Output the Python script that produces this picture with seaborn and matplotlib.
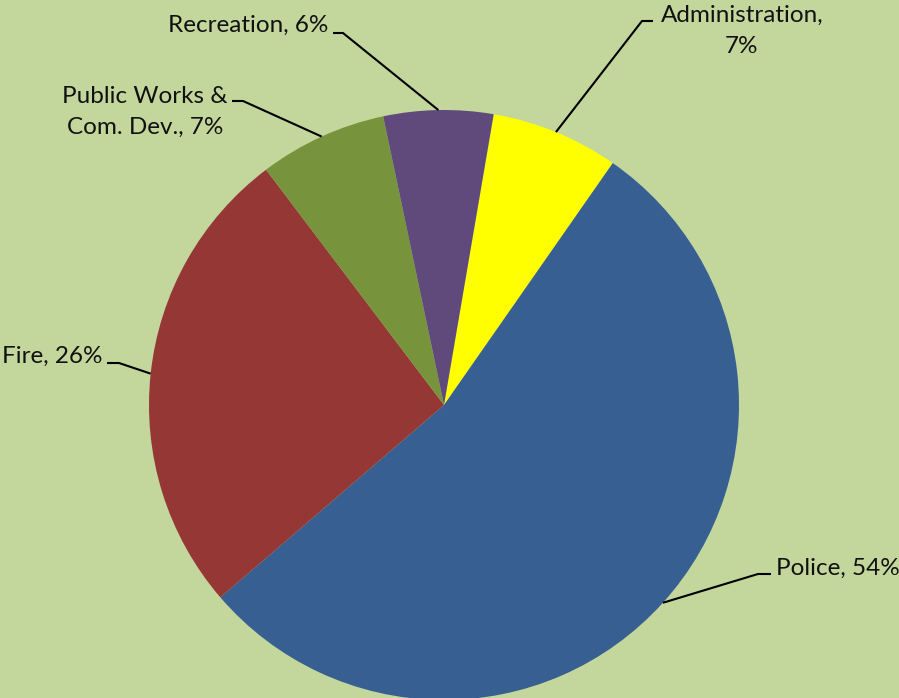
import matplotlib
matplotlib.use("Agg")
import matplotlib.pyplot as plt
import seaborn as sns
import numpy as np

categories = ["Administration", "Police", "Fire", "Public Works &\nCom. Dev.", "Recreation"]
values = [7, 54, 26, 7, 6]
colors = ["#FFFF00", "#375F92", "#953735", "#77933C", "#604A7B"]
label_texts = ["Administration,\n7%", "Police, 54%", "Fire, 26%", "Public Works &\nCom. Dev., 7%", "Recreation, 6%"]

sns.set_theme(style="white")
plt.rcParams['font.family'] = ['Lato', 'DejaVu Sans']

BG = "#C3D69B"
W, H = 899, 698
CX, CY, R = 444, 405, 295

fig = plt.figure(figsize=(W / 100, H / 100), dpi=100, facecolor=BG)
ax = fig.add_axes([0, 0, 1, 1])
ax.set_facecolor(BG)

def px(x, y):
    return (x - CX) / R, (CY - y) / R

ax.pie(values, colors=colors, startangle=80.3, counterclock=False, radius=1,
       wedgeprops=dict(linewidth=0))

ax.set_xlim(px(0, 0)[0], px(W, 0)[0])
ax.set_ylim(px(0, H)[1], px(0, 0)[1])
ax.set_aspect("equal")
ax.axis("off")

# label layout (pixels): text anchor, ha, elbow point, end of horizontal segment
layout = [
    dict(t=(742, 31), ha="center", elbow=(642, 21), hend=(653, 21)),
    dict(t=(776, 568), ha="left", elbow=(758, 574), hend=(771, 574)),
    dict(t=(102, 356), ha="right", elbow=(119, 363), hend=(107, 363)),
    dict(t=(145, 112), ha="center", elbow=(243, 101), hend=(232, 101)),
    dict(t=(328, 25), ha="right", elbow=(343, 33), hend=(333, 33)),
]

total = sum(values)
start = 80.3
ang = start
for txt, v, lay in zip(label_texts, values, layout):
    span = 360 * v / total
    mid = np.deg2rad(ang - span / 2)
    ang -= span
    ex, ey = np.cos(mid), np.sin(mid)
    bx, by = px(*lay["elbow"])
    hx, hy = px(*lay["hend"])
    ax.plot([ex, bx, hx], [ey, by, hy], color="black", lw=1.5, solid_capstyle="butt")
    tx, ty = px(*lay["t"])
    ax.text(tx, ty, txt, ha=lay["ha"], va="center", fontsize=17.5, color="#111111",
            multialignment="center", linespacing=1.6)

fig.savefig("out.png", dpi=100, facecolor=BG)
